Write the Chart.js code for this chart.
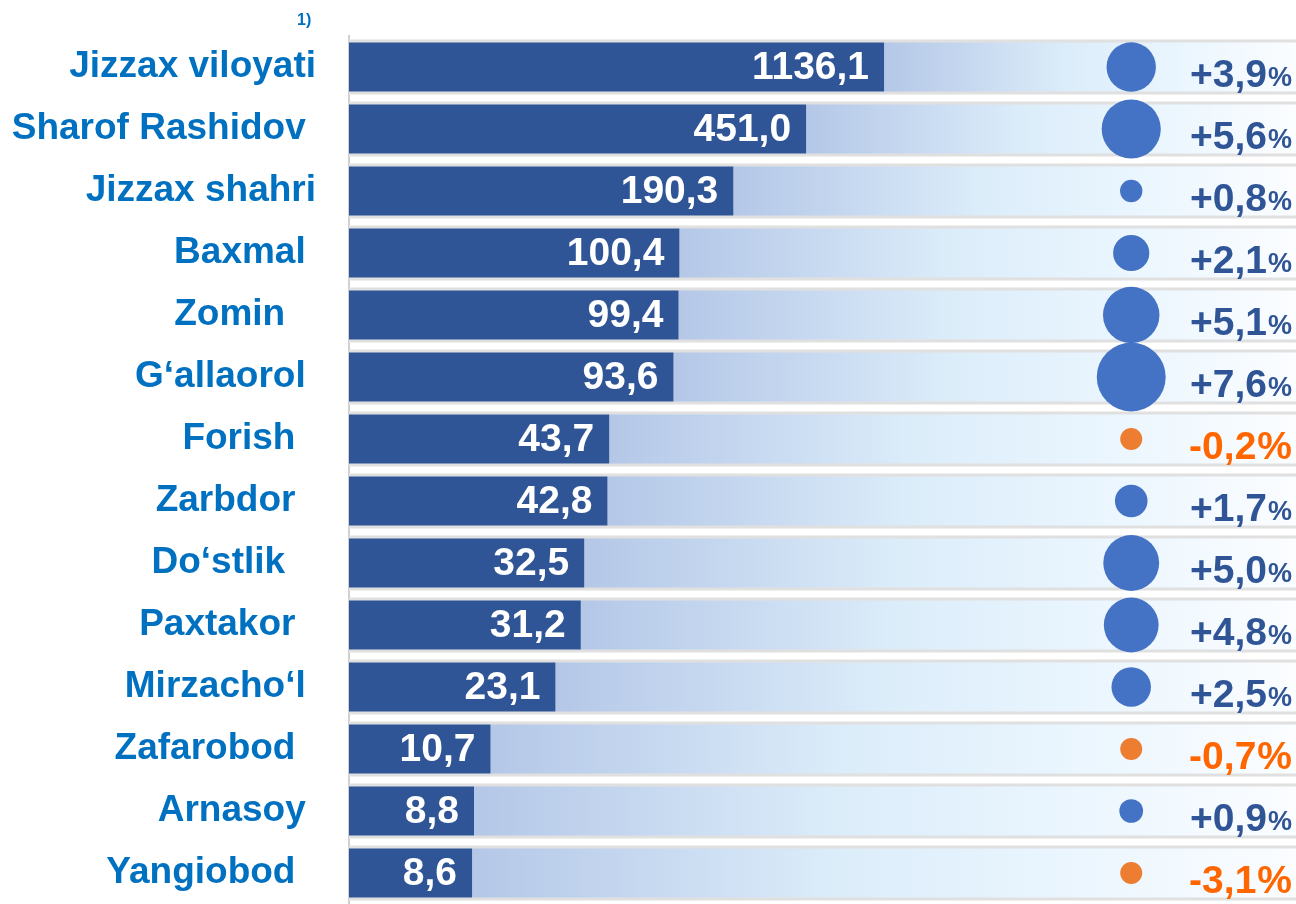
<!DOCTYPE html>
<html lang="uz">
<head>
    <meta charset="UTF-8">
    <title>Jizzax viloyati</title>
    <script src="https://cdn.jsdelivr.net/npm/chart.js"></script>
    <style>
        html, body {
            margin: 0;
            padding: 0;
            overflow: hidden;
            background: #fff;
            font-family: 'Liberation Sans', Arial, sans-serif;
        }
        #wrap {
            position: relative;
            width: 1296px;
            height: 904px;
        }
        canvas {
            display: block;
        }
        #note {
            position: absolute;
            left: 297px;
            top: 11px;
            font-size: 16px;
            font-weight: bold;
            color: #0070C0;
        }
    </style>
</head>
<body>
    <div id="wrap">
        <canvas id="chart" width="1296" height="904"></canvas>
        <div id="note">1)</div>
    </div>

    <script>
        // district names (trailing spaces kept as in the source slide)
        const districts = ['Jizzax viloyati', 'Sharof Rashidov ', 'Jizzax shahri', 'Baxmal ', 'Zomin   ',
            'G‘allaorol ', 'Forish  ', 'Zarbdor  ', 'Do‘stlik   ', 'Paxtakor  ', 'Mirzacho‘l ',
            'Zafarobod  ', 'Arnasoy ', 'Yangiobod  '];
        const volumes = [1136.1, 451.0, 190.3, 100.4, 99.4, 93.6, 43.7, 42.8, 32.5, 31.2, 23.1, 10.7, 8.8, 8.6];
        const growth = [3.9, 5.6, 0.8, 2.1, 5.1, 7.6, -0.2, 1.7, 5.0, 4.8, 2.5, -0.7, 0.9, -3.1];

        const X_MIN = 2, X_MAX = 150000;
        const BUBBLE_X = 0.826;
        const FONT = "'Liberation Sans', Arial, sans-serif";

        const fmt = v => v.toFixed(1).replace('.', ',');

        function bandGradient(c) {
            const chart = c.chart;
            const area = chart.chartArea;
            if (!area || c.dataIndex === undefined) return '#C9DCF2';
            const x0 = chart.scales.x.getPixelForValue(volumes[c.dataIndex]);
            const g = chart.ctx.createLinearGradient(x0, 0, area.right, 0);
            g.addColorStop(0, '#B4C7E7');
            g.addColorStop(0.45, '#DCEDFA');
            g.addColorStop(0.7, '#E9F5FE');
            g.addColorStop(1, '#FBFDFF');
            return g;
        }

        const labelPlugin = {
            id: 'labels',
            afterDatasetsDraw(chart) {
                const ctx = chart.ctx;
                const bars = chart.getDatasetMeta(0).data;
                const right = chart.chartArea.right - 4;
                ctx.save();
                ctx.textBaseline = 'middle';
                ctx.textAlign = 'right';
                bars.forEach((bar, i) => {
                    // value inside the dark bar
                    ctx.font = 'bold 39px ' + FONT;
                    ctx.fillStyle = '#fff';
                    ctx.fillText(fmt(volumes[i]), bar.x - 15, bar.y + 1);

                    // growth rate on the right
                    const g = growth[i];
                    const y = bar.y + 9;
                    ctx.fillStyle = g < 0 ? '#FF6600' : '#2F5597';
                    ctx.font = (g < 0 ? 'bold 39px ' : 'bold 27px ') + FONT;
                    ctx.fillText('%', right, y + (g < 0 ? 0 : 3));
                    const pw = ctx.measureText('%').width;
                    ctx.font = 'bold 39px ' + FONT;
                    ctx.fillText((g > 0 ? '+' : '') + fmt(g), right - pw - 1, y);
                });
                ctx.restore();
            }
        };

        new Chart(document.getElementById('chart'), {
            type: 'bar',
            data: {
                labels: districts,
                datasets: [
                    {
                        data: volumes,
                        backgroundColor: '#2F5597',
                        barPercentage: 0.79,
                        categoryPercentage: 1,
                        grouped: false,
                        order: 1
                    },
                    {
                        data: volumes.map(v => [v, X_MAX]),
                        backgroundColor: bandGradient,
                        barPercentage: 0.79,
                        categoryPercentage: 1,
                        grouped: false,
                        order: 2
                    },
                    {
                        data: volumes.map(() => [X_MIN, X_MAX]),
                        backgroundColor: '#E0E0E0',
                        barPercentage: 0.89,
                        categoryPercentage: 1,
                        grouped: false,
                        order: 3
                    },
                    {
                        type: 'bubble',
                        xAxisID: 'xb',
                        yAxisID: 'y',
                        clip: false,
                        data: growth.map((g, i) => ({
                            x: BUBBLE_X,
                            y: districts[i],
                            r: g > 0 ? Math.max(12.5 * Math.sqrt(g), 11) : 11
                        })),
                        backgroundColor: growth.map(g => g < 0 ? '#ED7D31' : '#4472C4'),
                        borderWidth: 0,
                        order: 0
                    }
                ]
            },
            options: {
                indexAxis: 'y',
                responsive: false,
                animation: false,
                layout: { autoPadding: false, padding: { top: 36, left: 0, right: 0, bottom: 0 } },
                plugins: {
                    legend: { display: false },
                    tooltip: { enabled: false }
                },
                scales: {
                    x: {
                        type: 'logarithmic',
                        min: X_MIN,
                        max: X_MAX,
                        display: false
                    },
                    xb: {
                        type: 'linear',
                        min: 0,
                        max: 1,
                        display: false
                    },
                    y: {
                        type: 'category',
                        offset: true,
                        afterFit: s => {
                            s.width = 349;
                            s.paddingTop = 0;
                            s.paddingBottom = 0;
                        },
                        grid: { display: false },
                        border: { display: true, color: '#D0D0D0', width: 2 },
                        ticks: {
                            autoSkip: false,
                            padding: 25,
                            color: '#0070C0',
                            font: { family: FONT, size: 37, weight: 'bold' }
                        }
                    }
                }
            },
            plugins: [labelPlugin]
        });
    </script>
</body>
</html>
